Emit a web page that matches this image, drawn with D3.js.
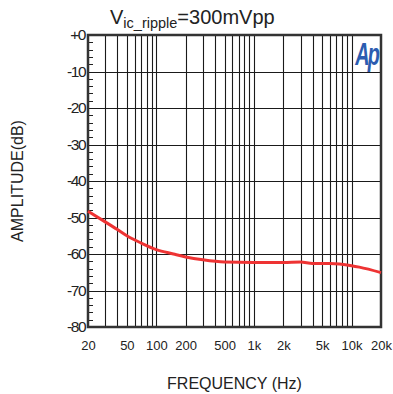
<!DOCTYPE html>
<html>
<head>
<meta charset="utf-8">
<script src="https://cdn.jsdelivr.net/npm/d3@7"></script>
<style>
  body { margin: 0; background: #fff; }
  svg { display: block; font-family: "Liberation Sans", Arial, sans-serif; }
</style>
</head>
<body>
<div id="main"></div>
<script>
// curve
const freqs = [20, 30, 40, 50, 70, 100, 150, 200, 300, 500, 1000, 2000, 3000, 4000, 6000, 10000, 12000, 20000];
const amps = [-48.3, -51.2, -53.3, -55, -57, -58.8, -60, -60.8, -61.6, -62.2, -62.3, -62.3, -62.2, -62.6, -62.6, -63.2, -63.6, -65.1];

const xTicks = [20, 50, 100, 200, 500, 1000, 2000, 5000, 10000, 20000];
const xTickLabels = ["20", "50", "100", "200", "500", "1k", "2k", "5k", "10k", "20k"];
const yTicks = [0, -10, -20, -30, -40, -50, -60, -70, -80];
const yTickLabels = ["+0", "-10", "-20", "-30", "-40", "-50", "-60", "-70", "-80"];

const svgWidth = 393;
const svgHeight = 394;
const margin = { top: 35, right: 12, bottom: 67, left: 88 };
const width = svgWidth - margin.left - margin.right;
const height = svgHeight - margin.top - margin.bottom;

const svg = d3.select("#main")
              .append("svg")
              .attr("width", svgWidth)
              .attr("height", svgHeight);

const g = svg.append("g")
             .attr("transform", "translate(" + margin.left + "," + margin.top + ")");

const xScale = d3.scaleLog()
                 .domain([20, 20000])
                 .range([0, width]);

const yScale = d3.scaleLinear()
                 .domain([-80, 0])
                 .range([height, 0]);

// vertical grid: every 1-2-3..9 step of each decade
const gridFreqs = [];
for (let dec = 10; dec <= 10000; dec *= 10) {
  for (let m = 1; m <= 9; m++) {
    const f = m * dec;
    if (f > 20 && f < 20000) gridFreqs.push(f);
  }
}

g.append("g")
 .selectAll("line")
 .data(gridFreqs)
 .enter()
 .append("line")
 .attr("x1", d => Math.round(xScale(d)) + 0.5)
 .attr("x2", d => Math.round(xScale(d)) + 0.5)
 .attr("y1", 0)
 .attr("y2", height)
 .attr("stroke", "#1a1a1a")
 .attr("stroke-width", 1.1);

g.append("g")
 .selectAll("line")
 .data(yTicks.slice(1, -1))
 .enter()
 .append("line")
 .attr("x1", 0)
 .attr("x2", width)
 .attr("y1", d => Math.round(yScale(d)) + 0.5)
 .attr("y2", d => Math.round(yScale(d)) + 0.5)
 .attr("stroke", "#1a1a1a")
 .attr("stroke-width", 1.1);

// small inner ticks on the left every 2 dB
const minorY = d3.range(-78, 0, 2).filter(v => v % 10 !== 0);
g.append("g")
 .selectAll("line")
 .data(minorY)
 .enter()
 .append("line")
 .attr("x1", 0)
 .attr("x2", 5)
 .attr("y1", d => Math.round(yScale(d)) + 0.5)
 .attr("y2", d => Math.round(yScale(d)) + 0.5)
 .attr("stroke", "#222")
 .attr("stroke-width", 1);

// frame
g.append("rect")
 .attr("x", 0)
 .attr("y", 0)
 .attr("width", width)
 .attr("height", height)
 .attr("fill", "none")
 .attr("stroke", "#333")
 .attr("stroke-width", 2.5);

// axes (labels only, lines drawn above)
const xAxis = d3.axisBottom(xScale)
                .tickValues(xTicks)
                .tickFormat((d, i) => xTickLabels[i])
                .tickSize(0)
                .tickPadding(14);

const yAxis = d3.axisLeft(yScale)
                .tickValues(yTicks)
                .tickFormat((d, i) => yTickLabels[i])
                .tickSize(0)
                .tickPadding(3);

const gx = g.append("g")
            .attr("transform", "translate(0," + height + ")")
            .call(xAxis);
gx.select(".domain").remove();
gx.selectAll("text")
  .attr("font-size", 13)
  .attr("font-family", "Liberation Sans, Arial, sans-serif")
  .attr("fill", "#222");

const gy = g.append("g").call(yAxis);
gy.select(".domain").remove();
gy.selectAll("text")
  .attr("font-size", 15.5)
  .attr("font-family", "Liberation Sans, Arial, sans-serif")
  .attr("letter-spacing", -1.5)
  .attr("fill", "#222");

// response curve
const line = d3.line()
               .x((d, i) => xScale(freqs[i]))
               .y(d => yScale(d))
               .curve(d3.curveMonotoneX);

g.append("path")
 .datum(amps)
 .attr("d", line)
 .attr("fill", "none")
 .attr("stroke", "#ee3333")
 .attr("stroke-width", 3);

// logo
const lx = width - 3;
g.append("text")
 .attr("x", lx)
 .attr("y", 30)
 .attr("text-anchor", "end")
 .attr("font-size", 32)
 .attr("font-weight", "bold")
 .attr("font-style", "italic")
 .attr("font-family", "Liberation Sans Narrow, Liberation Sans, Arial, sans-serif")
 .attr("letter-spacing", -3)
 .attr("fill", "#2b5cb0")
 .attr("transform", "translate(" + lx + ",0) scale(0.62,1) translate(" + (-lx) + ",0)")
 .text("Ap");

// title
const title = svg.append("text")
                 .attr("x", 110)
                 .attr("y", 24)
                 .attr("font-size", 20)
                 .attr("fill", "#222");
title.append("tspan").text("V");
title.append("tspan").attr("font-size", 14.5).attr("dy", 4).text("ic_ripple");
title.append("tspan").attr("dy", -4).text("=300mVpp");

// axis titles
svg.append("text")
   .attr("x", margin.left + width / 2)
   .attr("y", 389)
   .attr("text-anchor", "middle")
   .attr("font-size", 16)
   .attr("fill", "#222")
   .text("FREQUENCY (Hz)");

svg.append("text")
   .attr("transform", "translate(23," + (margin.top + 146) + ") rotate(-90)")
   .attr("text-anchor", "middle")
   .attr("font-size", 16)
   .attr("fill", "#222")
   .text("AMPLITUDE(dB)");
</script>
</body>
</html>
